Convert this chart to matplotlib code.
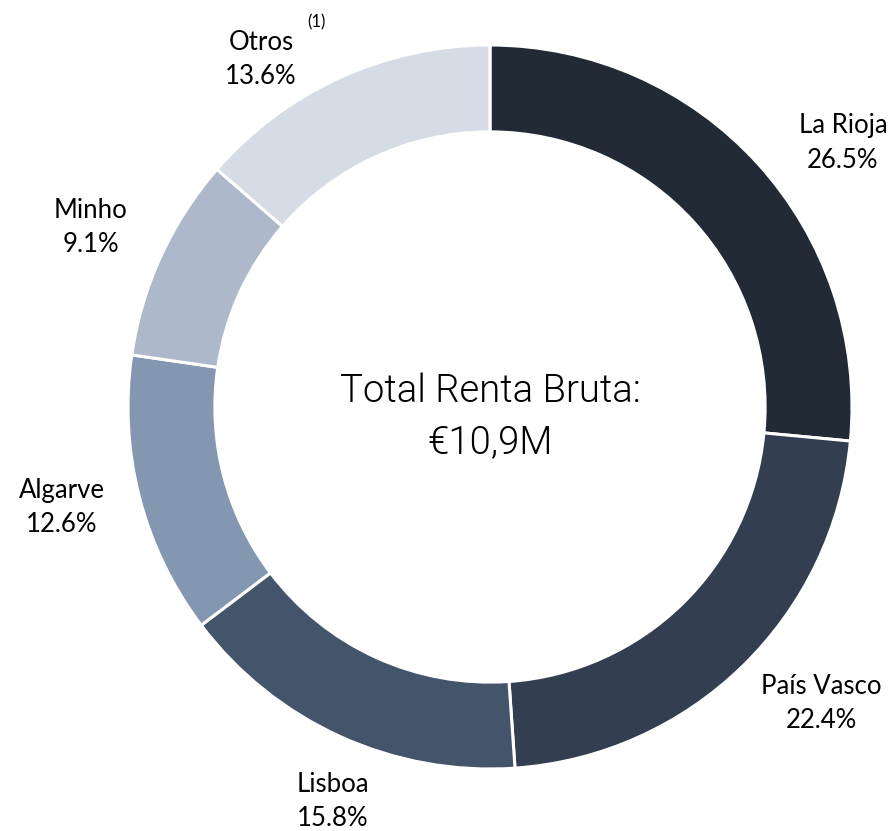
import matplotlib.pyplot as plt

regions = ["La Rioja", "País Vasco", "Lisboa", "Algarve", "Minho", "Otros"]
shares = [26.5, 22.4, 15.8, 12.6, 9.1, 13.6]
colors = ["#222a35", "#333f50", "#44546a", "#8497b0", "#adb9ca", "#d6dce5"]
total_label = "Total Renta Bruta:\n€10,9M"

W, H = 895, 831
# label centres in pixel coords (from top-left)
label_pos = [(843, 143), (821, 703), (333, 801), (62, 508), (91, 228), (261, 59)]

fig = plt.figure(figsize=(W / 100, H / 100), dpi=100)
ax = fig.add_axes([0, 0, 1, 1])

cx, cy, r = 490, H - 407, 362
ax.pie(shares, colors=colors, startangle=90, counterclock=False,
       center=(cx, cy), radius=r,
       wedgeprops=dict(width=r * 0.24, edgecolor="white", linewidth=2.2))
ax.set_xlim(0, W)
ax.set_ylim(0, H)
ax.set_aspect("equal")
ax.axis("off")

for name, val, (x, y) in zip(regions, shares, label_pos):
    ax.text(x, H - y, f"{name}\n{val:.1f}%", ha="center", va="center",
            fontsize=18.5, family="Lato", linespacing=1.45, color="black")

ax.text(316, H - 22, "(1)", ha="center", va="center", fontsize=12, family="Lato")

ax.text(cx, H - 417, total_label, ha="center", va="center", fontsize=27.5,
        family="Roboto", fontweight=300, linespacing=1.45, color="black")

fig.savefig("out.png", dpi=100)
